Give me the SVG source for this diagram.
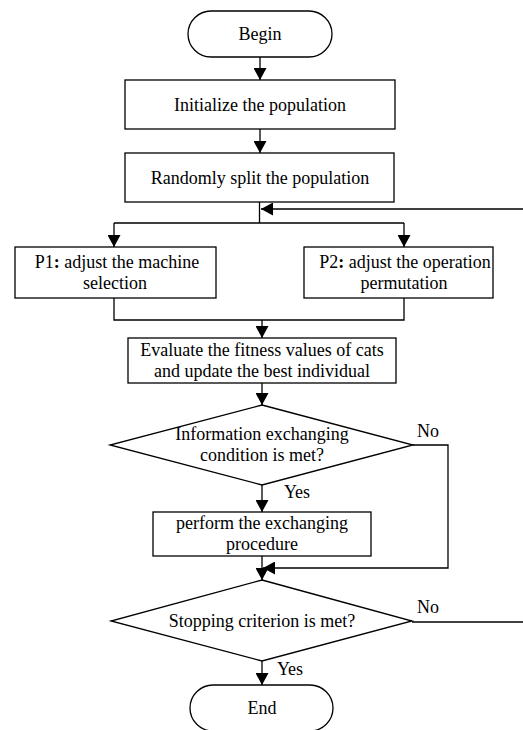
<svg xmlns="http://www.w3.org/2000/svg" width="523" height="730" viewBox="0 0 523 730">
<style>
.s{fill:#fff;stroke:#000;stroke-width:1.3}
.l{fill:none;stroke:#000;stroke-width:1.3}
text{font-family:'Liberation Serif','DejaVu Serif',serif;font-size:18px;fill:#000;text-anchor:middle}
</style>
<defs>
<marker id="a" markerWidth="12" markerHeight="13" refX="12" refY="6.5" orient="auto" markerUnits="userSpaceOnUse">
<path d="M0,0 L12,6.5 L0,13 Z" fill="#000"/>
</marker>
</defs>
<rect width="523" height="730" fill="#fff"/>
<g id="connectors">
<path class="l" d="M260,57 V80" marker-end="url(#a)"/>
<path class="l" d="M260,129 V153" marker-end="url(#a)"/>
<path class="l" d="M259.5,202 V223 M114,223 H404"/>
<path class="l" d="M114,223 V247" marker-end="url(#a)"/>
<path class="l" d="M404,223 V247" marker-end="url(#a)"/>
<path class="l" d="M523,209 H261" marker-end="url(#a)"/>
<path class="l" d="M114,298 V320 H404 V298"/>
<path class="l" d="M262,320 V338" marker-end="url(#a)"/>
<path class="l" d="M262,383 V405" marker-end="url(#a)"/>
<path class="l" d="M262,485 V512" marker-end="url(#a)"/>
<path class="l" d="M413,445 H448 V568 H263" marker-end="url(#a)"/>
<path class="l" d="M262,556 V580" marker-end="url(#a)"/>
<path class="l" d="M412,622 H523"/>
<path class="l" d="M262,661 V685" marker-end="url(#a)"/>
<text x="428" y="437">No</text>
<text x="297" y="498">Yes</text>
<text x="428" y="613">No</text>
<text x="290" y="675">Yes</text>
</g>
<g id="begin">
<rect class="s" x="188" y="11" width="144" height="46" rx="23"/>
<text x="260" y="40">Begin</text>
</g>
<g id="init">
<rect class="s" x="125" y="80" width="270" height="49"/>
<text x="260" y="111">Initialize the population</text>
</g>
<g id="split">
<rect class="s" x="125" y="153" width="269" height="49"/>
<text x="260" y="184">Randomly split the population</text>
</g>
<g id="p1">
<rect class="s" x="15" y="247" width="201" height="51"/>
<text x="117" y="268">P1<tspan font-weight="bold">:</tspan> adjust the machine</text>
<text x="115" y="289">selection</text>
</g>
<g id="p2">
<rect class="s" x="304" y="247" width="189" height="51"/>
<text x="405" y="268">P2<tspan font-weight="bold">:</tspan> adjust the operation</text>
<text x="404" y="289">permutation</text>
</g>
<g id="evaluate">
<rect class="s" x="128" y="338" width="268" height="45"/>
<text x="262" y="356">Evaluate the fitness values of cats</text>
<text x="262" y="377">and update the best individual</text>
</g>
<g id="exchange-cond">
<polygon class="s" points="262,405 413,445 262,485 110,445"/>
<text x="262" y="440">Information exchanging</text>
<text x="262" y="461">condition is met?</text>
</g>
<g id="exchange">
<rect class="s" x="153" y="512" width="218" height="44"/>
<text x="262" y="529">perform the exchanging</text>
<text x="262" y="550">procedure</text>
</g>
<g id="stop-cond">
<polygon class="s" points="262,580 412,621 262,661 111,621"/>
<text x="262" y="627">Stopping criterion is met?</text>
</g>
<g id="end">
<rect class="s" x="190" y="685" width="143" height="46" rx="23"/>
<text x="262" y="714">End</text>
</g>
</svg>
